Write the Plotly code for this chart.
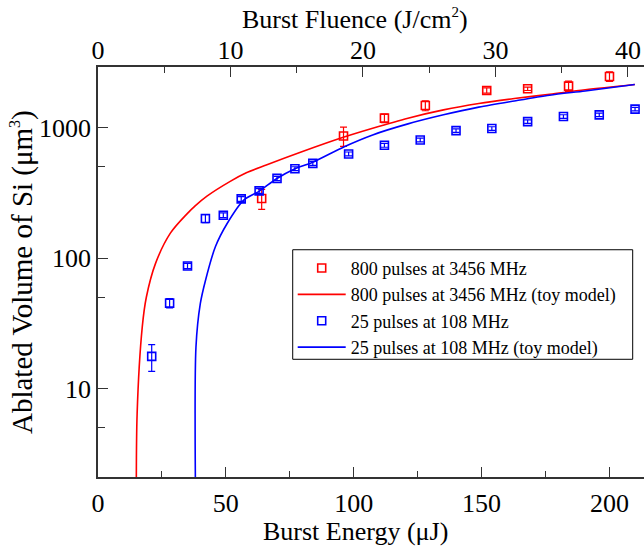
import plotly.graph_objects as go

# Burst energy (µJ) and ablated volume (µm^3), 800 pulses at 3456 MHz
red_energy = [64, 96, 112, 128, 152, 168, 184, 200]
red_volume = [286, 863, 1181, 1476, 1926, 1985, 2081, 2467]
red_error = [50, 145, 88, 130, 90, 60, 190, 205]

# 25 pulses at 108 MHz
blue_energy = [21, 28, 35, 42, 49, 56, 63, 70, 77, 84, 98, 112, 126, 140, 154, 168, 182, 196, 210]
blue_volume = [17.6, 45.1, 86.8, 201, 213, 284, 327, 408, 484, 532, 628, 732, 804, 948, 983, 1112, 1216, 1252, 1385]
blue_error = [4.1, 3.7, 4, 14, 9, 12, 14, 15, 17, 19, 22, 25, 27, 30, 32, 35, 38, 40, 44]

# Toy-model curves
red_model_energy = [15.0, 15.3, 17.3, 18.9, 22.5, 28.3, 34.8, 38.1, 42.6, 51.7, 58.0, 65.8, 79.7, 95.9,
                    107.4, 121.2, 135.1, 148.9, 162.8, 176.6, 190.5, 209.9]
red_model_volume = [1, 6.4, 29.5, 50, 91, 155, 218, 252, 298, 387, 450, 517, 653, 843,
                    989, 1181, 1367, 1530, 1670, 1800, 1950, 2140]
blue_model_energy = [38.2, 38.3, 40.0, 42.0, 45.9, 50.5, 57.0, 63.1, 69.8, 76.6, 83.7, 96.3,
                     107.4, 121.2, 135.1, 148.9, 162.8, 176.6, 190.5, 209.9]
blue_model_volume = [1, 20.7, 44.6, 67, 122, 184, 278, 326, 405, 480, 540, 714,
                     879, 1068, 1253, 1435, 1600, 1770, 1910, 2140]

# Axis settings
energy_range = [0, 213.5]
fluence_per_energy = 0.19302  # J/cm^2 per µJ
log_volume_range = [0.3208, 3.4646]
energy_ticks = [0, 50, 100, 150, 200]
energy_minor = [25, 75, 125, 175]
fluence_ticks = [0, 10, 20, 30, 40]
fluence_minor = [5, 15, 25, 35]
volume_ticks = [10, 100, 1000]
volume_minor = [5, 50, 500]

RED = "#ff0000"
BLUE = "#0000ff"
FONT = "Liberation Serif, Times New Roman, serif"
AXIS = "#333333"


def small_sup(s, px):
    return f'<sup><span style="font-size:{px}px">{s}</span></sup>'


fig = go.Figure()

fig.add_trace(go.Scatter(
    x=red_energy, y=red_volume, mode="markers",
    name="800 pulses at 3456 MHz",
    marker=dict(symbol="square-open", size=8, color=RED, line=dict(width=1.6)),
    error_y=dict(type="data", array=red_error, color=RED, thickness=1.2, width=3.5),
))
fig.add_trace(go.Scatter(
    x=red_model_energy, y=red_model_volume, mode="lines",
    name="800 pulses at 3456 MHz (toy model)",
    line=dict(color=RED, width=1.6, shape="spline", smoothing=0.9),
))
fig.add_trace(go.Scatter(
    x=blue_energy, y=blue_volume, mode="markers",
    name="25 pulses at 108 MHz",
    marker=dict(symbol="square-open", size=8, color=BLUE, line=dict(width=1.6)),
    error_y=dict(type="data", array=blue_error, color=BLUE, thickness=1.2, width=3.5),
))
fig.add_trace(go.Scatter(
    x=blue_model_energy, y=blue_model_volume, mode="lines",
    name="25 pulses at 108 MHz (toy model)",
    line=dict(color=BLUE, width=1.6, shape="spline", smoothing=0.8),
))
# Empty trace so the top fluence axis is laid out
fig.add_trace(go.Scatter(
    x=[], y=[], xaxis="x2", yaxis="y", mode="markers",
    showlegend=False, hoverinfo="skip",
))

tick_font = dict(family=FONT, size=26, color="black")
title_font = dict(family=FONT, size=26, color="black")

fig.update_layout(
    width=644, height=549,
    margin=dict(l=98, r=0, t=67, b=72),
    paper_bgcolor="white", plot_bgcolor="white",
    font=dict(family=FONT, color="black"),
    showlegend=True,
    legend=dict(
        x=0.3566, y=0.5543, xanchor="left", yanchor="top",
        borderwidth=0, bgcolor="rgba(0,0,0,0)",
        font=dict(family=FONT, size=18, color="black"),
        itemwidth=48, tracegroupgap=0,
    ),
    # framed box behind the legend entries
    shapes=[dict(
        type="rect", xref="paper", yref="paper",
        x0=0.3566, x1=0.9793, y0=0.2871, y1=0.5543,
        line=dict(color="black", width=1), fillcolor="white", layer="below",
    )],
    xaxis=dict(
        range=energy_range, tickvals=energy_ticks, ticks="inside", ticklen=10,
        tickcolor=AXIS, showline=True, linecolor=AXIS, linewidth=1.5,
        showgrid=False, zeroline=False, tickfont=tick_font, ticklabelstandoff=2,
        minor=dict(tickvals=energy_minor, ticks="inside", ticklen=6, tickcolor=AXIS, showgrid=False),
    ),
    xaxis2=dict(
        overlaying="x", side="top", anchor="y",
        range=[r * fluence_per_energy for r in energy_range],
        tickvals=fluence_ticks, ticks="inside", ticklen=10,
        tickcolor=AXIS, showline=True, linecolor=AXIS, linewidth=1.5,
        showgrid=False, zeroline=False, tickfont=tick_font, ticklabelstandoff=-4,
        minor=dict(tickvals=fluence_minor, ticks="inside", ticklen=6, tickcolor=AXIS, showgrid=False),
    ),
    yaxis=dict(
        type="log", range=log_volume_range, tickvals=volume_ticks,
        ticktext=[str(v) for v in volume_ticks],
        ticks="inside", ticklen=10, tickcolor=AXIS,
        showline=True, linecolor=AXIS, linewidth=1.5,
        showgrid=False, zeroline=False, tickfont=tick_font,
        minor=dict(tickvals=volume_minor, ticks="inside", ticklen=7, tickcolor=AXIS, showgrid=False),
    ),
    yaxis2=dict(
        type="log", range=log_volume_range, overlaying="y", side="right", anchor="x",
        tickvals=volume_ticks, showticklabels=False,
        ticks="inside", ticklen=6, tickcolor=AXIS, showline=False,
        showgrid=False, zeroline=False,
        minor=dict(tickvals=volume_minor, ticks="inside", ticklen=4, tickcolor=AXIS, showgrid=False),
    ),
    annotations=[
        dict(text="Burst Energy (μJ)", xref="paper", yref="paper",
             x=0.4707, y=-0.132, xanchor="center", yanchor="middle",
             showarrow=False, font=title_font),
        dict(text="Burst Fluence (J/cm" + small_sup("2", 15) + ")", xref="paper", yref="paper",
             x=0.4707, y=1.118, xanchor="center", yanchor="middle",
             showarrow=False, font=title_font),
        dict(text="Ablated Volume of Si (μm" + small_sup("3", 16) + ")", xref="paper", yref="paper",
             x=-0.1392, y=0.5, xanchor="center", yanchor="middle", textangle=-90,
             showarrow=False, font=dict(family=FONT, size=29, color="black")),
    ],
)

fig.write_html("out.html")
